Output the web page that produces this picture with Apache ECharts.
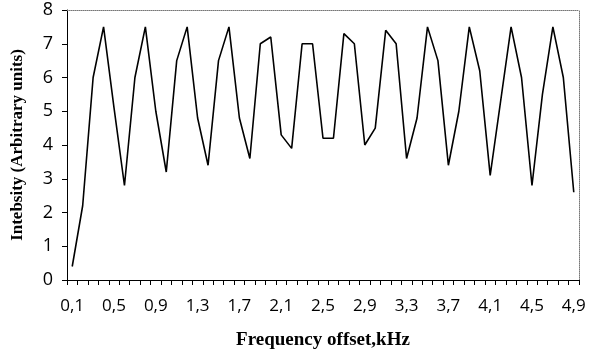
<!DOCTYPE html>
<html>
<head>
<meta charset="utf-8">
<script src="https://cdn.jsdelivr.net/npm/echarts@6/dist/echarts.min.js"></script>
<style>
  html, body { margin: 0; padding: 0; background: #fff; }
  #chart { width: 595px; height: 356px; }
</style>
</head>
<body>
<div id="chart"></div>
<script>
// frequency offset, kHz (0,1 .. 4,9)
const offsets = [
  "0,1", "0,2", "0,3", "0,4", "0,5", "0,6", "0,7", "0,8", "0,9", "1,0",
  "1,1", "1,2", "1,3", "1,4", "1,5", "1,6", "1,7", "1,8", "1,9", "2,0",
  "2,1", "2,2", "2,3", "2,4", "2,5", "2,6", "2,7", "2,8", "2,9", "3,0",
  "3,1", "3,2", "3,3", "3,4", "3,5", "3,6", "3,7", "3,8", "3,9", "4,0",
  "4,1", "4,2", "4,3", "4,4", "4,5", "4,6", "4,7", "4,8", "4,9"
];

// intensity, arbitrary units
const intensity = [
  0.4, 2.2, 6.0, 7.5, 5.1, 2.8, 6.0, 7.5, 5.0, 3.2,
  6.5, 7.5, 4.8, 3.4, 6.5, 7.5, 4.8, 3.6, 7.0, 7.2,
  4.3, 3.9, 7.0, 7.0, 4.2, 4.2, 7.3, 7.0, 4.0, 4.5,
  7.4, 7.0, 3.6, 4.8, 7.5, 6.5, 3.4, 5.0, 7.5, 6.2,
  3.1, 5.3, 7.5, 6.0, 2.8, 5.5, 7.5, 6.0, 2.6
];

const yTicks = [0, 1, 2, 3, 4, 5, 6, 7, 8];

const chart = echarts.init(document.getElementById("chart"));

const labelFont = "'Open Sans', 'DejaVu Sans', sans-serif";
const titleFont = "'Liberation Serif', 'DejaVu Serif', serif";

chart.setOption({
  animation: false,
  backgroundColor: "#fff",
  grid: { left: 67, right: 16, top: 10, bottom: 76 },
  xAxis: [
    {
      type: "category",
      data: offsets,
      boundaryGap: true,
      name: "Frequency offset,kHz",
      nameLocation: "middle",
      nameGap: 51,
      nameTextStyle: { fontFamily: titleFont, fontWeight: "bold", fontSize: 19, color: "#000" },
      axisLine: { onZero: false, lineStyle: { color: "#000", width: 1 } },
      axisTick: { show: true, interval: 0, length: 5, lineStyle: { color: "#000" } },
      axisLabel: { interval: 3, margin: 18, fontFamily: labelFont, fontSize: 17, color: "#000" },
      splitLine: { show: false }
    },
    {
      type: "category",
      data: offsets,
      position: "top",
      axisLine: { show: true, onZero: false, lineStyle: { color: "#777", type: "dotted", width: 1 } },
      axisTick: { show: false },
      axisLabel: { show: false }
    }
  ],
  yAxis: [
    {
      type: "value",
      min: yTicks[0],
      max: yTicks[yTicks.length - 1],
      interval: 1,
      name: "Intebsity (Arbitrary units)",
      nameLocation: "middle",
      nameGap: 41,
      nameTextStyle: { fontFamily: titleFont, fontWeight: "bold", fontSize: 17, color: "#000" },
      axisLine: { show: true, onZero: false, lineStyle: { color: "#000", width: 1 } },
      axisTick: { show: true, length: 5, lineStyle: { color: "#000" } },
      axisLabel: { margin: 14, fontFamily: labelFont, fontSize: 18, color: "#000" },
      splitLine: { show: false }
    },
    {
      type: "value",
      min: yTicks[0],
      max: yTicks[yTicks.length - 1],
      position: "right",
      axisLine: { show: true, onZero: false, lineStyle: { color: "#777", type: "dotted", width: 1 } },
      axisTick: { show: false },
      axisLabel: { show: false },
      splitLine: { show: false }
    }
  ],
  series: [
    {
      type: "line",
      data: intensity,
      showSymbol: false,
      symbol: "none",
      lineStyle: { color: "#000", width: 1.6 }
    }
  ]
});
</script>
</body>
</html>
